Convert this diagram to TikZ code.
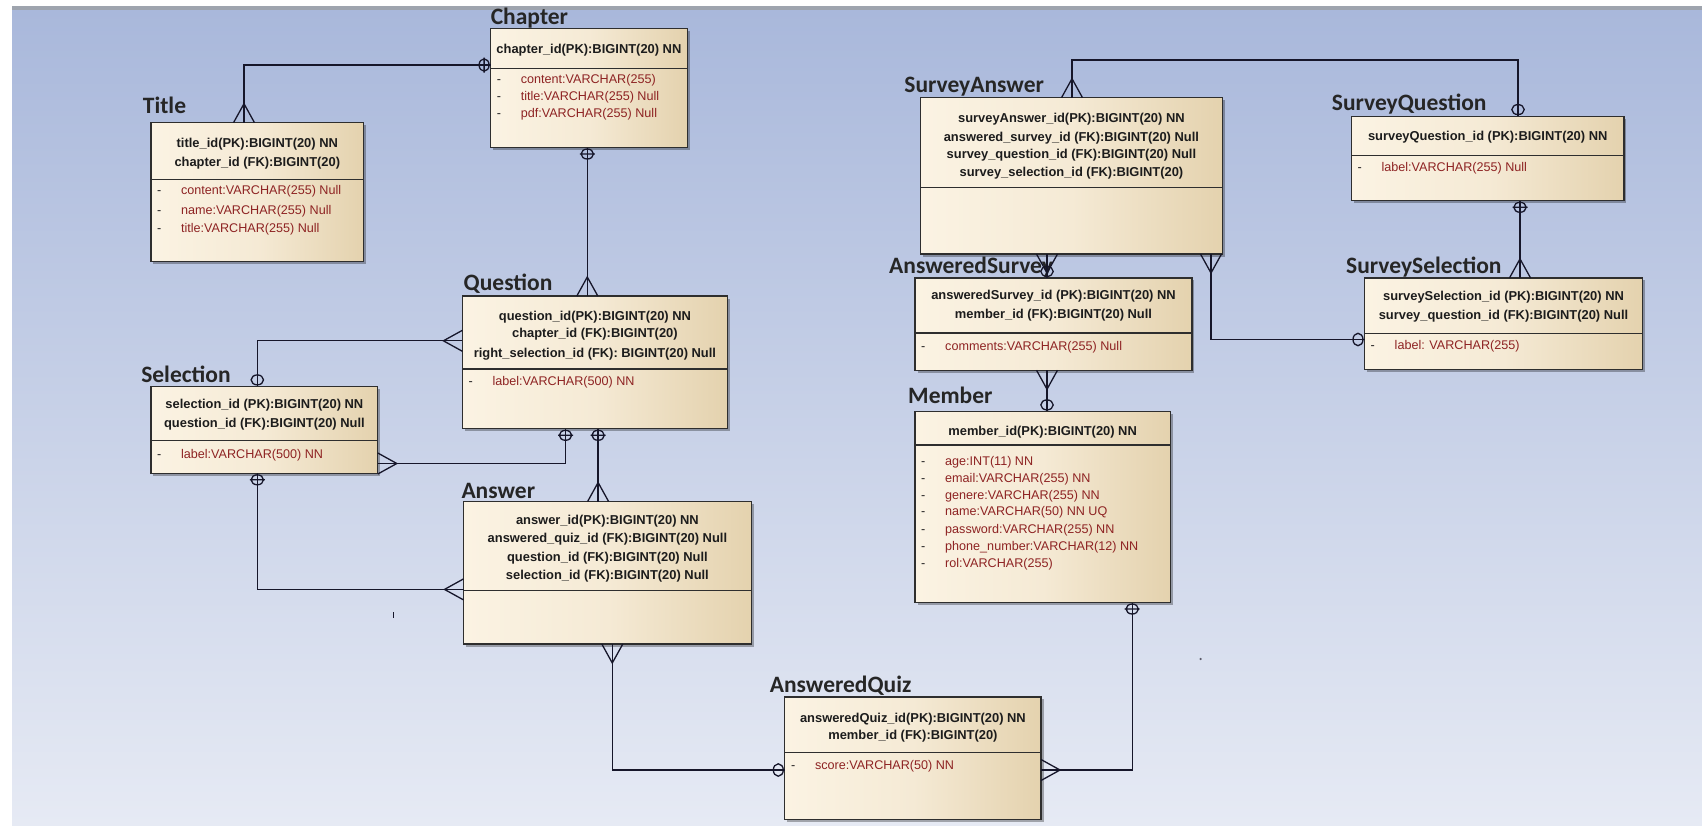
\documentclass[tikz,border=0pt]{standalone}
\usepackage{fontspec}
\setmainfont{Liberation Sans}
\newfontfamily\lblfont{Carlito}
\usetikzlibrary{shadows}

\definecolor{bgtop}{HTML}{A9B8DB}
\definecolor{bgbot}{HTML}{E6EAF4}
\definecolor{boxL}{HTML}{FBF3E3}
\definecolor{boxM}{HTML}{F5EAD5}
\definecolor{boxR}{HTML}{E4D2AE}
\definecolor{edgecol}{HTML}{2E2E2E}
\definecolor{conncol}{HTML}{16162A}
\definecolor{attrcol}{HTML}{8E2323}
\definecolor{keycol}{HTML}{1C1C1C}
\definecolor{toplinecol}{HTML}{9EA4AE}

\pgfdeclarearrow{
  name = erCrow,
  setup code = {
    \pgfarrowssettipend{0pt}
    \pgfarrowssetlineend{0pt}
    \pgfarrowssetbackend{-19pt}
    \pgfarrowshullpoint{0pt}{10.5pt}
    \pgfarrowshullpoint{0pt}{-10.5pt}
    \pgfarrowshullpoint{-19pt}{0pt}
  },
  drawing code = {
    \pgfpathmoveto{\pgfqpoint{0pt}{10.5pt}}
    \pgfpathlineto{\pgfqpoint{-19pt}{0pt}}
    \pgfpathlineto{\pgfqpoint{0pt}{-10.5pt}}
    \pgfusepathqstroke
  },
}
\pgfdeclarearrow{
  name = erCirc,
  setup code = {
    \pgfarrowssettipend{0pt}
    \pgfarrowssetlineend{0pt}
    \pgfarrowssetbackend{-12pt}
    \pgfarrowshullpoint{0pt}{6.5pt}
    \pgfarrowshullpoint{0pt}{-6.5pt}
    \pgfarrowshullpoint{-12pt}{6.5pt}
    \pgfarrowshullpoint{-12pt}{-6.5pt}
  },
  drawing code = {
    \pgfpathellipse{\pgfqpoint{-6.5pt}{0pt}}{\pgfqpoint{5pt}{0pt}}{\pgfqpoint{0pt}{6.2pt}}
    \pgfusepathqstroke
  },
}
\pgfdeclarearrow{
  name = erCircBar,
  setup code = {
    \pgfarrowssettipend{0pt}
    \pgfarrowssetlineend{0pt}
    \pgfarrowssetbackend{-12pt}
    \pgfarrowshullpoint{0pt}{7.5pt}
    \pgfarrowshullpoint{0pt}{-7.5pt}
    \pgfarrowshullpoint{-12pt}{7.5pt}
    \pgfarrowshullpoint{-12pt}{-7.5pt}
  },
  drawing code = {
    \pgfpathellipse{\pgfqpoint{-6.5pt}{0pt}}{\pgfqpoint{5pt}{0pt}}{\pgfqpoint{0pt}{6.2pt}}
    \pgfpathmoveto{\pgfqpoint{-6.5pt}{7.5pt}}
    \pgfpathlineto{\pgfqpoint{-6.5pt}{-7.5pt}}
    \pgfusepathqstroke
  },
}

\tikzset{
  ent/.style={draw=edgecol, line width=1.2pt, left color=boxL, right color=boxR, middle color=boxM,
    drop shadow={shadow xshift=2.5pt, shadow yshift=-2.5pt, opacity=0.3, fill=black},
    anchor=north west, inner sep=0pt, outer sep=0pt, rectangle},
  divline/.style={draw=edgecol, line width=1.2pt},
  keyrow/.style={font=\fontsize{12.9}{14}\selectfont\bfseries, text=keycol, inner sep=0pt,
    anchor=center, text height=11pt, text depth=2pt},
  attrrow/.style={font=\fontsize{12.6}{14}\selectfont, text=attrcol, inner sep=0pt,
    anchor=west, text height=11pt, text depth=2pt},
  lbl/.style={font=\lblfont\bfseries\fontsize{23.5}{28}\selectfont, text=black!85, inner sep=0pt, anchor=base west},
  conn/.style={draw=conncol, line width=1.3pt},
}

\newcommand\erbox[6]{%
  \node[ent, minimum width={#4-#2}, minimum height={#5-#3}] (#1) at (#2,#3) {};
  \draw[divline] (#2,#6) -- (#4,#6);
}
\newcommand\krow[4]{\node[keyrow] (#1) at (#2,#3) {#4};}
\newcommand\arow[4]{\node[attrrow] (#1) at (#2+6,#3) {\makebox[24pt][l]{\textcolor{keycol}{-}}#4};}

\begin{document}
\begin{tikzpicture}[x=1pt,y=-1pt]
\useasboundingbox (0,0) rectangle (1702,825);
% background
\fill[white] (0,0) rectangle (1702,825);
\fill[toplinecol] (12,6) rectangle (1702,10);
\shade[top color=bgtop, bottom color=bgbot] (12,10) rectangle (1702,825);

% ---------- boxes ----------
\erbox{chapter}{490.6}{28.2}{687.1}{147.5}{68.4}
\erbox{title}{150.9}{122.7}{363.6}{261.6}{179.1}
\erbox{question}{462.4}{296}{727.3}{428.8}{369}
\erbox{selection}{150.9}{386.4}{377.8}{473.3}{440.7}
\erbox{answer}{463.5}{501.5}{751.2}{644}{590.5}
\erbox{aquiz}{784.8}{696.9}{1041}{819.6}{752.5}
\erbox{member}{915}{411.4}{1170.2}{602.5}{445}
\erbox{sanswer}{920.5}{97.7}{1222.3}{254}{187.8}
\erbox{squestion}{1351.4}{116.1}{1623.9}{200.8}{155.2}
\erbox{asurvey}{915}{277.9}{1191.9}{370.2}{333}
\erbox{sselection}{1364.5}{277.9}{1642.4}{369.1}{333.5}

% ---------- labels ----------
\node[lbl] (lchapter) at (490.6,24) {Chapter};
\node[lbl] (ltitle) at (142.7,113) {Title};
\node[lbl] (lquestion) at (463.5,290.8) {Question};
\node[lbl] (lselection) at (141.1,382) {Selection};
\node[lbl] (lanswer) at (461.3,498) {Answer};
\node[lbl] (laquiz) at (769.6,692.5) {AnsweredQuiz};
\node[lbl] (lmember) at (908,403) {Member};
\node[lbl] (lsanswer) at (904.2,92.2) {SurveyAnswer};
\node[lbl] (lsquestion) at (1331.7,110.6) {SurveyQuestion};
\node[lbl] (lasurvey) at (889,273.5) {AnsweredSurvey};
\node[lbl] (lsselection) at (1346,273.5) {SurveySelection};

% ---------- rows ----------
% Chapter
\krow{chk1}{588.9}{48.8}{chapter\_id(PK):BIGINT(20) NN}
\arow{cha1}{490.6}{79.2}{content:VARCHAR(255)}
\arow{cha2}{490.6}{96.0}{title:VARCHAR(255) Null}
\arow{cha3}{490.6}{112.9}{pdf:VARCHAR(255) Null}
% Title
\krow{tik1}{257.3}{143.3}{title\_id(PK):BIGINT(20) NN}
\krow{tik2}{257.3}{161.7}{chapter\_id (FK):BIGINT(20)}
\arow{tia1}{150.9}{190}{content:VARCHAR(255) Null}
\arow{tia2}{150.9}{209.5}{name:VARCHAR(255) Null}
\arow{tia3}{150.9}{228}{title:VARCHAR(255) Null}
% Question
\krow{qk1}{594.9}{315.9}{question\_id(PK):BIGINT(20) NN}
\krow{qk2}{594.9}{333.2}{chapter\_id (FK):BIGINT(20)}
\krow{qk3}{594.9}{352.8}{right\_selection\_id (FK): BIGINT(20) Null}
\arow{qa1}{462.4}{381}{label:VARCHAR(500) NN}
% Selection
\krow{sek1}{264.4}{403.8}{selection\_id (PK):BIGINT(20) NN}
\krow{sek2}{264.4}{423.3}{question\_id (FK):BIGINT(20) Null}
\arow{sea1}{150.9}{453.7}{label:VARCHAR(500) NN}
% Answer
\krow{ank1}{607.4}{520}{answer\_id(PK):BIGINT(20) NN}
\krow{ank2}{607.4}{538.4}{answered\_quiz\_id (FK):BIGINT(20) Null}
\krow{ank3}{607.4}{556.9}{question\_id (FK):BIGINT(20) Null}
\krow{ank4}{607.4}{575.3}{selection\_id (FK):BIGINT(20) Null}
% AnsweredQuiz
\krow{aqk1}{912.9}{717.5}{answeredQuiz\_id(PK):BIGINT(20) NN}
\krow{aqk2}{912.9}{734.9}{member\_id (FK):BIGINT(20)}
\arow{aqa1}{784.8}{765.3}{score:VARCHAR(50) NN}
% Member
\krow{mk1}{1042.6}{431}{member\_id(PK):BIGINT(20) NN}
\arow{ma1}{915}{461.3}{age:INT(11) NN}
\arow{ma2}{915}{477.6}{email:VARCHAR(255) NN}
\arow{ma3}{915}{495}{genere:VARCHAR(255) NN}
\arow{ma4}{915}{511.3}{name:VARCHAR(50) NN UQ}
\arow{ma5}{915}{528.6}{password:VARCHAR(255) NN}
\arow{ma6}{915}{546}{phone\_number:VARCHAR(12) NN}
\arow{ma7}{915}{563.4}{rol:VARCHAR(255)}
% SurveyAnswer
\krow{sak1}{1071.4}{118.3}{surveyAnswer\_id(PK):BIGINT(20) NN}
\krow{sak2}{1071.4}{136.8}{answered\_survey\_id (FK):BIGINT(20) Null}
\krow{sak3}{1071.4}{154.1}{survey\_question\_id (FK):BIGINT(20) Null}
\krow{sak4}{1071.4}{171.5}{survey\_selection\_id (FK):BIGINT(20)}
% SurveyQuestion
\krow{sqk1}{1487.7}{135.7}{surveyQuestion\_id (PK):BIGINT(20) NN}
\arow{sqa1}{1351.4}{167.2}{label:VARCHAR(255) Null}
% AnsweredSurvey
\krow{ask1}{1053.5}{295.3}{answeredSurvey\_id (PK):BIGINT(20) NN}
\krow{ask2}{1053.5}{313.7}{member\_id (FK):BIGINT(20) Null}
\arow{asa1}{915}{346.3}{comments:VARCHAR(255) Null}
% SurveySelection
\krow{ssk1}{1503.5}{296.3}{surveySelection\_id (PK):BIGINT(20) NN}
\krow{ssk2}{1503.5}{314.8}{survey\_question\_id (FK):BIGINT(20) Null}
\arow{ssa1}{1364.5}{345.2}{label: VARCHAR(255)}

% ---------- connector bend points ----------
\coordinate (c1) at (244,65);
\coordinate (c2) at (587.3,200);
\coordinate (c3) at (257.3,340.8);
\coordinate (c4) at (565.5,463.5);
\coordinate (c5) at (598.1,460);
\coordinate (c6) at (257.3,589.4);
\coordinate (c7) at (612.3,770);
\coordinate (c8) at (1132.2,770);
\coordinate (c9) at (1047,300);
\coordinate (c11) at (1211,339.5);
\coordinate (c12a) at (1072,60);
\coordinate (c12b) at (1518,60);
\coordinate (c13) at (1520,230);

% ---------- connectors ----------
\draw[conn,{erCrow}-{erCircBar}] (title.north -| c1) |- (chapter.west |- c1);
\draw[conn,{erCircBar}-{erCrow}] (chapter.south -| c2) -- (question.north -| c2);
\draw[conn,{erCrow}-{erCirc}] (question.west |- c3) -| (selection.north -| c3);
\draw[conn,{erCrow}-{erCircBar}] (selection.east |- c4) -| (question.south -| c4);
\draw[conn,{erCircBar}-{erCrow}] (question.south -| c5) -- (answer.north -| c5);
\draw[conn,{erCircBar}-{erCrow}] (selection.south -| c6) |- (answer.west |- c6);
\draw[conn,{erCrow}-{erCirc}] (answer.south -| c7) |- (aquiz.west |- c7);
\draw[conn,{erCircBar}-{erCrow}] (member.south -| c8) |- (aquiz.east |- c8);
\draw[conn,{erCrow}-{erCirc}] (asurvey.south -| c9) -- (member.north -| c9);
\draw[conn,{erCrow}-{erCirc}] (sanswer.south -| c9) -- (asurvey.north -| c9);
\draw[conn,{erCrow}-{erCirc}] (sanswer.south -| c11) |- (sselection.west |- c11);
\draw[conn,{erCrow}-{erCirc}] (sanswer.north -| c12a) |- (c12b) -- (squestion.north -| c12b);
\draw[conn,{erCircBar}-{erCrow}] (squestion.south -| c13) -- (sselection.north -| c13);

% stray marks
\fill[conncol] (392.5,612) rectangle (394,618);
\fill[conncol!70] (1200.6,659) circle (1.2);
\end{tikzpicture}
\end{document}
